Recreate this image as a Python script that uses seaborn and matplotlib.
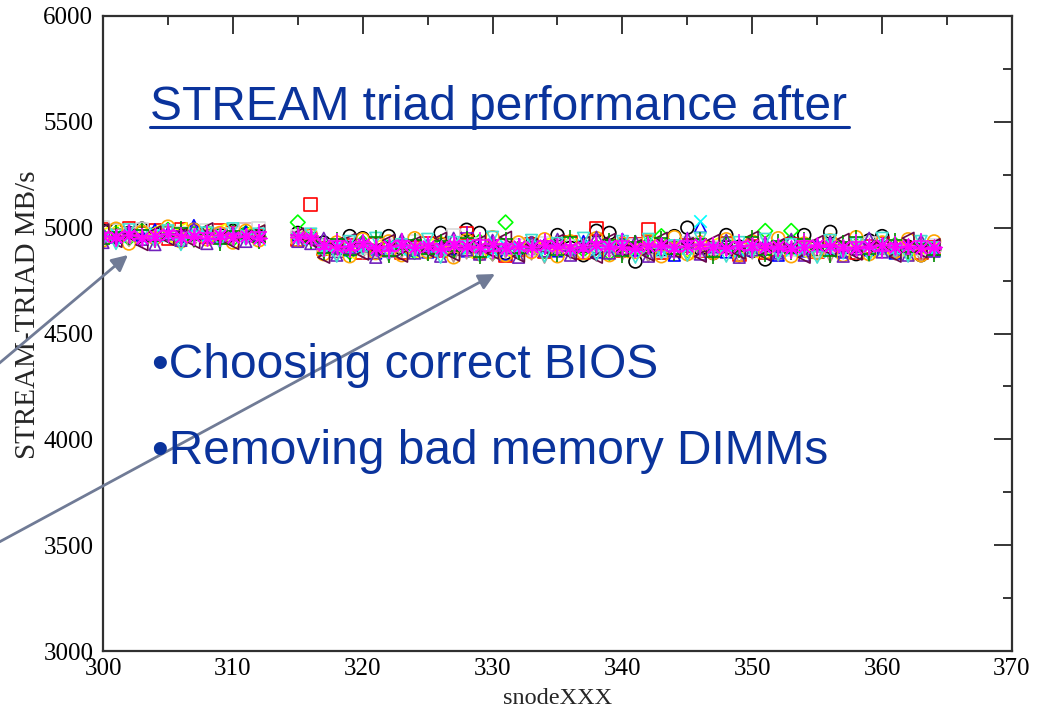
import matplotlib
matplotlib.use("Agg")
import matplotlib.pyplot as plt
import seaborn as sns
from matplotlib.patches import FancyArrowPatch
from matplotlib.lines import Line2D
from matplotlib.ticker import MultipleLocator

# Node numbers (snode300 ... snode364, nodes 313-314 missing)
nodes = list(range(300, 313)) + list(range(315, 365))

# STREAM triad bandwidth (MB/s), one list per run
run_01 = [4985, 4990, 4975, 4995, 4970, 4980, 4960, 4990, 4975, 4965, 4985, 4970, 4960,
          4975, 4960, 4930, 4905, 4960, 4950, 4885, 4960, 4900, 4915, 4890, 4975, 4905, 4990,
          4975, 4895, 4880, 4900, 4925, 4890, 4965, 4905, 4870, 4985, 4975, 4920, 4840, 4910,
          4895, 4960, 5000, 4900, 4880, 4965, 4910, 4890, 4850, 4905, 4930, 4965, 4890, 4980,
          4900, 4875, 4940, 4960, 4885, 4910, 4870, 4895]
run_02 = [4990, 4965, 4995, 4975, 4985, 4950, 4990, 4970, 4960, 4985, 4975, 4990, 4965,
          4945, 5110, 4900, 4890, 4915, 4880, 4920, 4895, 4880, 4905, 4925, 4890, 4900, 4975,
          4885, 4910, 4870, 4895, 4920, 4885, 4900, 4930, 4880, 4995, 4905, 4890, 4920, 4990,
          4880, 4905, 4915, 4890, 4900, 4925, 4875, 4910, 4880, 4895, 4920, 4905, 4885, 4915,
          4895, 4880, 4910, 4925, 4890, 4900, 4880, 4905]
run_03 = [4960, 4975, 4950, 4985, 4965, 4990, 4955, 4970, 4980, 4960, 4945, 4975, 4955,
          5025, 4955, 4915, 4900, 4885, 4930, 4895, 4910, 4920, 4885, 4900, 4915, 4890, 4905,
          4935, 4880, 5025, 4900, 4915, 4890, 4905, 4925, 4895, 4910, 4880, 4915, 4900, 4925,
          4960, 4905, 4895, 4915, 4885, 4930, 4900, 4910, 4985, 4895, 4985, 4905, 4890, 4920,
          4900, 4915, 4895, 4905, 4920, 4885, 4910, 4900]
run_04 = [4970, 4955, 4980, 4965, 4990, 4975, 4960, 5010, 4970, 4955, 4965, 4980, 4960,
          4965, 4950, 4905, 4890, 4895, 4910, 4880, 4905, 4925, 4895, 4885, 4910, 4900, 4890,
          4915, 4930, 4875, 4905, 4895, 4920, 4890, 4900, 4935, 4885, 4910, 4945, 4895, 4905,
          4890, 4870, 4920, 5005, 4900, 4885, 4915, 4895, 4910, 4870, 4905, 4890, 4920, 4900,
          4885, 4910, 4895, 4905, 4880, 4915, 4900, 4890]
run_05 = [4975, 4990, 4960, 4970, 4985, 4955, 4995, 4965, 4980, 4990, 4960, 4975, 4985,
          4955, 4945, 4895, 4910, 4880, 4900, 4915, 4890, 4905, 4880, 4920, 4895, 4910, 4885,
          4900, 4915, 4890, 4870, 4905, 4925, 4895, 4880, 4910, 4900, 4920, 4885, 4905, 4895,
          4915, 4890, 4880, 4910, 4925, 4895, 4905, 4885, 4900, 4915, 4890, 4880, 4905, 4920,
          4895, 4910, 4885, 4900, 4915, 4870, 4895, 4905]
run_06 = [4950, 4965, 4940, 4960, 4945, 4975, 4950, 4935, 4960, 4970, 4945, 4955, 4940,
          4950, 4940, 4885, 4870, 4900, 4880, 4895, 4870, 4885, 4900, 4875, 4890, 4865, 4880,
          4895, 4870, 4885, 4900, 4875, 4860, 4890, 4880, 4895, 4870, 4885, 4875, 4900, 4865,
          4880, 4890, 4870, 4885, 4875, 4895, 4860, 4880, 4890, 4870, 4885, 4900, 4875, 4865,
          4890, 4880, 4870, 4895, 4875, 4885, 4865, 4880]
run_07 = [5000, 4985, 4970, 4990, 4960, 4980, 4975, 4965, 4985, 4955, 4970, 4990, 4995,
          4960, 4955, 4910, 4895, 4925, 4905, 4890, 4915, 4900, 4935, 4895, 4910, 4965, 4900,
          4920, 4890, 4905, 4915, 4895, 4925, 4900, 4910, 4890, 4920, 4905, 4895, 4915, 4900,
          4890, 4910, 4925, 4895, 4905, 4915, 4890, 4900, 4920, 4905, 4895, 4910, 4890, 4915,
          4900, 4905, 4925, 4895, 4910, 4890, 4900, 4915]
run_08 = [4965, 4950, 4975, 4960, 4945, 4970, 4985, 4955, 4965, 4950, 4975, 4960, 4950,
          4960, 4950, 4900, 4915, 4890, 4905, 4920, 4895, 4910, 4900, 4885, 4925, 4905, 4975,
          4890, 4910, 4900, 4920, 4895, 4905, 4915, 4890, 4910, 4900, 4920, 4905, 4895, 4915,
          4890, 4910, 4905, 4920, 4895, 4900, 4915, 4890, 4910, 4905, 4895, 4920, 4900, 4915,
          4890, 4905, 4910, 4895, 4920, 4900, 4890, 4910]
run_09 = [4955, 4970, 4960, 4945, 4975, 4965, 4950, 4980, 4960, 4970, 4955, 4965, 4945,
          4950, 4945, 4905, 4920, 4895, 4910, 4900, 4925, 4890, 4915, 4905, 4895, 4920, 4900,
          4910, 4890, 4915, 4905, 4925, 4895, 4910, 4900, 4920, 4890, 4905, 4915, 4900, 4910,
          4895, 4920, 4905, 5030, 4900, 4915, 4890, 4910, 4905, 4920, 4895, 4900, 4915, 4890,
          4910, 4905, 4920, 4895, 4900, 4915, 4905, 4895]
run_10 = [4940, 4995, 4925, 4980, 4950, 5005, 4935, 4990, 4945, 4975, 4930, 4985, 4940,
          4940, 4965, 4875, 4930, 4865, 4945, 4880, 4935, 4870, 4950, 4885, 4925, 4860, 4940,
          4875, 4955, 4870, 4930, 4885, 4945, 4865, 4935, 4880, 4950, 4870, 4925, 4885, 4940,
          4865, 4955, 4875, 4930, 4880, 4945, 4870, 4935, 4885, 4950, 4865, 4925, 4880, 4940,
          4870, 4955, 4875, 4930, 4885, 4945, 4870, 4935]
run_11 = [4930, 4960, 4985, 4945, 4920, 4970, 4940, 4995, 4925, 4955, 4980, 4935, 4965,
          4935, 4925, 4950, 4870, 4905, 4935, 4860, 4890, 4945, 4880, 4920, 4865, 4950, 4895,
          4875, 4940, 4905, 4860, 4930, 4890, 4945, 4870, 4915, 4955, 4880, 4900, 4935, 4865,
          4925, 4890, 4950, 4875, 4910, 4940, 4860, 4895, 4930, 4880, 4945, 4870, 4915, 4935,
          4865, 4900, 4950, 4885, 4920, 4870, 4940, 4890]
run_12 = [4990, 4935, 4965, 4920, 4980, 4945, 4970, 4930, 4995, 4950, 4925, 4960, 4985,
          4970, 4935, 4860, 4925, 4945, 4875, 4900, 4940, 4865, 4930, 4890, 4950, 4870, 4910,
          4935, 4880, 4955, 4865, 4920, 4900, 4940, 4875, 4930, 4860, 4945, 4890, 4915, 4870,
          4950, 4885, 4925, 4865, 4940, 4895, 4880, 4955, 4870, 4920, 4905, 4860, 4935, 4890,
          4945, 4875, 4910, 4930, 4865, 4950, 4885, 4920]
run_13 = [4945, 4925, 4990, 4960, 4935, 4985, 4920, 4955, 4975, 4930, 4995, 4945, 4970,
          4945, 4970, 4890, 4865, 4935, 4900, 4950, 4875, 4920, 4885, 4945, 4860, 4930, 4910,
          4870, 4955, 4895, 4880, 4940, 4865, 4925, 4890, 4950, 4875, 4905, 4935, 4860, 4945,
          4880, 4915, 4870, 4950, 4900, 4865, 4930, 4885, 4945, 4875, 4920, 4895, 4860, 4940,
          4880, 4925, 4870, 4950, 4890, 4865, 4935, 4905]
run_14 = [4925, 4980, 4950, 4990, 4935, 4960, 5000, 4940, 4970, 4925, 4985, 4950, 4930,
          4965, 4930, 4880, 4945, 4870, 4925, 4955, 4865, 4900, 4940, 4875, 4935, 4890, 4950,
          4860, 4920, 4945, 4880, 4905, 4935, 4870, 4955, 4885, 4915, 4940, 4865, 4930, 4895,
          4950, 4875, 4910, 4945, 4860, 4925, 4890, 4955, 4870, 4935, 4880, 4945, 4900, 4865,
          4930, 4955, 4875, 4910, 4940, 4885, 4925, 4870]
run_15 = [4975, 4945, 4980, 4960, 4940, 4985, 4965, 4950, 4975, 4945, 4970, 4955, 4980,
          4965, 4960, 4900, 4935, 4895, 4930, 4910, 4890, 4935, 4905, 4925, 4895, 4930, 4900,
          4940, 4890, 4925, 4910, 4895, 4935, 4905, 4920, 4890, 4930, 4900, 4935, 4895, 4925,
          4910, 4890, 4935, 4900, 4920, 4905, 4930, 4895, 4925, 4900, 4890, 4935, 4910, 4920,
          4895, 4930, 4905, 4890, 4925, 4910, 4935, 4900]
run_16 = [4960, 4955, 4965, 4950, 4960, 4970, 4955, 4960, 4950, 4965, 4955, 4960, 4950,
          4955, 4950, 4920, 4910, 4915, 4925, 4905, 4915, 4920, 4910, 4915, 4905, 4920, 4915,
          4910, 4925, 4905, 4915, 4910, 4920, 4915, 4905, 4910, 4920, 4915, 4910, 4905, 4915,
          4920, 4910, 4915, 4925, 4910, 4905, 4915, 4920, 4910, 4915, 4905, 4910, 4920, 4915,
          4910, 4905, 4915, 4920, 4910, 4915, 4905, 4910]

runs = [run_01, run_02, run_03, run_04, run_05, run_06, run_07, run_08,
        run_09, run_10, run_11, run_12, run_13, run_14, run_15, run_16]

# Per-run symbol styling (xmgrace default palette)
run_colors = ["#000000", "#ff0000", "#00ff00", "#0000ff", "#ffff00", "#bc8f8f",
              "#dcdcdc", "#9400d3", "#00ffff", "#ffa500", "#7221bc", "#670748",
              "#40e0d0", "#008b00", "#ff00ff", "#ff00ff"]
run_markers = ["o", "s", "D", "^", "<", "v", "s", "+", "x", "o", "^", "<",
               "v", "+", "+", (8, 2, 0)]
run_sizes = [85, 85, 55, 70, 70, 70, 85, 95, 80, 85, 70, 70, 70, 95, 140, 110]
FILLABLE = ("o", "s", "D", "^", "<", "v", ">")

TEXT_BLUE = "#0a339c"
ARROW_GREY = "#707b96"

sns.set_theme(style="white")
plt.rcParams["font.family"] = ["Liberation Serif", "DejaVu Serif"]

fig = plt.figure(figsize=(10.37, 7.08), dpi=100)
ax = fig.add_axes([103 / 1037, 1 - 651 / 708, (1012 - 103) / 1037, (651 - 16) / 708])

for vals, col, mk, sz in zip(runs, run_colors, run_markers, run_sizes):
    if mk in FILLABLE:
        sns.scatterplot(x=nodes, y=vals, ax=ax, marker=mk, s=sz, color=col,
                        facecolor="none", edgecolor=col, linewidth=1.2, legend=False)
    else:
        sns.scatterplot(x=nodes, y=vals, ax=ax, marker=mk, s=sz, color=col,
                        linewidth=1.2, legend=False)

ax.set_xlim(300, 370)
ax.set_ylim(3000, 6000)
ax.xaxis.set_major_locator(MultipleLocator(10))
ax.xaxis.set_minor_locator(MultipleLocator(5))
ax.yaxis.set_major_locator(MultipleLocator(500))
ax.yaxis.set_minor_locator(MultipleLocator(250))
ax.tick_params(which="both", direction="in", top=True, right=True, colors="black",
               labelsize=18)
ax.tick_params(which="major", length=13, width=1.1)
ax.tick_params(which="minor", length=6.5, width=1.1)
ax.tick_params(axis="x", which="major", pad=5)
ax.tick_params(axis="y", which="major", pad=7)
for sp in ax.spines.values():
    sp.set_color("#303030")
    sp.set_linewidth(1.6)

ax.set_xlabel("snodeXXX", fontsize=17.5, labelpad=6)
ax.set_ylabel("STREAM-TRIAD MB/s", fontsize=21)
ax.yaxis.set_label_coords(-0.068, 0.53)

# Slide overlay text
def fx(px):
    return px / 1037

def fy(py):
    return 1 - py / 708

sans = ["Liberation Sans", "DejaVu Sans"]
fig.text(fx(150), fy(120), "STREAM triad performance after", family=sans,
         fontsize=34.5, color=TEXT_BLUE, va="baseline", ha="left")
fig.add_artist(Line2D([fx(150), fx(849)], [fy(127), fy(127)], color=TEXT_BLUE,
                      lw=2.2, transform=fig.transFigure))
fig.text(fx(152), fy(378), "\u2022Choosing correct BIOS", family=sans,
         fontsize=34.5, color=TEXT_BLUE, va="baseline", ha="left")
fig.text(fx(152), fy(464), "\u2022Removing bad memory DIMMs", family=sans,
         fontsize=34.5, color=TEXT_BLUE, va="baseline", ha="left")

# Callout arrows coming in from the left
for start, end in [((-10, 371), (128, 255)), ((-10, 547), (495, 274))]:
    arr = FancyArrowPatch((fx(start[0]), fy(start[1])), (fx(end[0]), fy(end[1])),
                          transform=fig.transFigure, arrowstyle="-|>", mutation_scale=24,
                          lw=2.0, color=ARROW_GREY, shrinkA=0, shrinkB=0)
    fig.add_artist(arr)

fig.savefig("out.png", dpi=100)
